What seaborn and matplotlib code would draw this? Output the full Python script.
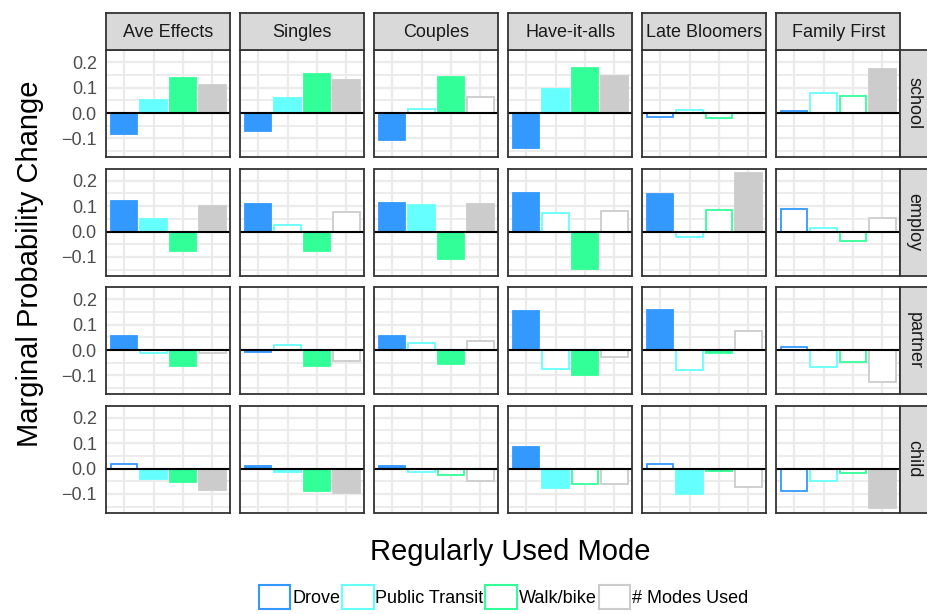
import matplotlib
matplotlib.use("Agg")
import matplotlib.pyplot as plt
from matplotlib.patches import Patch
import numpy as np
import pandas as pd
import seaborn as sns

# ---- data -------------------------------------------------------------
groups = ["Ave Effects", "Singles", "Couples", "Have-it-alls", "Late Bloomers", "Family First"]
outcomes = ["school", "employ", "partner", "child"]
modes = ["Drove", "Public Transit", "Walk/bike", "# Modes Used"]
mode_colors = ["#3399FF", "#66FFFF", "#33FF99", "#CCCCCC"]

# marginal probability change, one row per group, columns follow `modes`
school = [
    [-0.081, 0.053, 0.137, 0.111],
    [-0.071, 0.059, 0.152, 0.131],
    [-0.106, 0.016, 0.140, 0.062],
    [-0.136, 0.094, 0.178, 0.145],
    [-0.017, 0.011, -0.019, 0.001],
    [0.009, 0.080, 0.067, 0.173],
]
employ = [
    [0.120, 0.048, -0.078, 0.099],
    [0.109, 0.027, -0.078, 0.075],
    [0.113, 0.103, -0.108, 0.109],
    [0.152, 0.074, -0.148, 0.080],
    [0.147, -0.022, 0.086, 0.229],
    [0.090, 0.013, -0.037, 0.055],
]
partner = [
    [0.055, -0.012, -0.061, -0.013],
    [-0.006, 0.018, -0.061, -0.043],
    [0.055, 0.026, -0.054, 0.036],
    [0.154, -0.074, -0.097, -0.026],
    [0.158, -0.078, -0.013, 0.075],
    [0.012, -0.066, -0.049, -0.124],
]
child = [
    [0.018, -0.041, -0.054, -0.083],
    [0.008, -0.012, -0.089, -0.096],
    [0.010, -0.014, -0.027, -0.048],
    [0.083, -0.075, -0.060, -0.060],
    [0.018, -0.102, -0.008, -0.072],
    [-0.087, -0.050, -0.017, -0.154],
]

# 1 = significant (solid bar), 0 = not significant (outlined bar)
school_sig = [
    [1, 1, 1, 1],
    [1, 1, 1, 1],
    [1, 0, 1, 0],
    [1, 1, 1, 1],
    [0, 0, 0, 0],
    [0, 0, 0, 1],
]
employ_sig = [
    [1, 1, 1, 1],
    [1, 0, 1, 0],
    [1, 1, 1, 1],
    [1, 0, 1, 0],
    [1, 0, 0, 1],
    [0, 0, 0, 0],
]
partner_sig = [
    [1, 0, 1, 0],
    [1, 0, 1, 0],
    [1, 0, 1, 0],
    [1, 0, 1, 0],
    [1, 0, 1, 0],
    [0, 0, 0, 0],
]
child_sig = [
    [0, 1, 1, 1],
    [1, 1, 1, 1],
    [1, 0, 0, 0],
    [1, 1, 0, 0],
    [0, 1, 1, 0],
    [0, 0, 0, 1],
]

values_by_outcome = {"school": school, "employ": employ, "partner": partner, "child": child}
sig_by_outcome = {"school": school_sig, "employ": employ_sig,
                  "partner": partner_sig, "child": child_sig}

rows = []
for out in outcomes:
    for gi, g in enumerate(groups):
        for mi, m in enumerate(modes):
            rows.append({"outcome": out, "group": g, "mode": m,
                         "value": values_by_outcome[out][gi][mi],
                         "sig": sig_by_outcome[out][gi][mi]})
df = pd.DataFrame(rows)

# ---- style ------------------------------------------------------------
sns.set_theme(style="white")
plt.rcParams["font.family"] = ["Liberation Sans", "DejaVu Sans"]

W, H = 928, 614
fig = plt.figure(figsize=(W / 100, H / 100), dpi=100)

col_x = [106.5 + 134 * j for j in range(6)]
row_y = [50 + 118.5 * i for i in range(4)]
pw, ph = 123.5, 107
strip_h = 37.5
strip_w = 28

border = "#333333"
grid_c = "#EBEBEB"
strip_fc = "#D9D9D9"
ylim = (-0.173, 0.248)


def fig_rect(x, y, w, h):
    return [x / W, 1 - (y + h) / H, w / W, h / H]


for i, out in enumerate(outcomes):
    for j, g in enumerate(groups):
        ax = fig.add_axes(fig_rect(col_x[j], row_y[i], pw, ph))
        sub = df[(df.outcome == out) & (df.group == g)]
        sns.barplot(data=sub, x="mode", y="value", hue="mode", order=modes,
                    hue_order=modes, palette=mode_colors, width=0.9,
                    saturation=1, errorbar=None, legend=False, ax=ax, zorder=3)
        sig = dict(zip(sub["mode"], sub["sig"]))
        for k, cont in enumerate(ax.containers):
            for bar in cont:
                bar.set_edgecolor(mode_colors[k])
                bar.set_linewidth(1.3)
                bar.set_facecolor(mode_colors[k] if sig[modes[k]] else "white")
        ax.axhline(0, color="black", lw=1.5, zorder=4)
        ax.set_xlim(-0.6, 3.6)
        ax.set_ylim(*ylim)
        ax.set_yticks([-0.1, 0.0, 0.1, 0.2])
        ax.set_yticks([-0.15, -0.05, 0.05, 0.15], minor=True)
        ax.set_xticks(range(4))
        ax.grid(True, which="major", color=grid_c, lw=1.6, zorder=0)
        ax.grid(True, which="minor", axis="y", color=grid_c, lw=1.3, zorder=0)
        ax.set_axisbelow(True)
        ax.set_xlabel("")
        ax.set_ylabel("")
        for s in ax.spines.values():
            s.set_color(border)
            s.set_linewidth(1.3)
            s.set_zorder(5)
        ax.tick_params(axis="both", which="minor", length=0)
        ax.tick_params(axis="x", labelbottom=False, length=4 if i == 3 else 0,
                       color=border, width=1.0)
        if j == 0:
            ax.set_yticklabels(["\u22120.1", "0.0", "0.1", "0.2"])
            ax.tick_params(axis="y", length=3, color=border, width=1.0,
                           labelsize=13, labelcolor="#4D4D4D", pad=4)
        else:
            ax.tick_params(axis="y", labelleft=False, length=0)

        # facet strips
        if i == 0:
            sax = fig.add_axes(fig_rect(col_x[j], row_y[0] - strip_h, pw, strip_h))
            sax.set_facecolor(strip_fc)
            sax.set_xticks([]); sax.set_yticks([])
            for s in sax.spines.values():
                s.set_color(border); s.set_linewidth(1.3)
            sax.text(0.5, 0.47, g, ha="center", va="center", fontsize=13,
                     color="#1A1A1A", transform=sax.transAxes)
        if j == 5:
            sax = fig.add_axes(fig_rect(col_x[5] + pw, row_y[i], strip_w, ph))
            sax.set_facecolor(strip_fc)
            sax.set_xticks([]); sax.set_yticks([])
            for s in sax.spines.values():
                s.set_color(border); s.set_linewidth(1.3)
            sax.text(0.5, 0.5, out, ha="center", va="center", fontsize=13,
                     rotation=-90, color="#1A1A1A", transform=sax.transAxes)

# axis titles
fig.text(510 / W, 1 - 552 / H, "Regularly Used Mode", ha="center", va="center",
         fontsize=21, color="black")
fig.text(30 / W, 1 - 263.5 / H, "Marginal Probability Change", ha="center",
         va="center", rotation=90, fontsize=21, color="black")

# legend
handles = [Patch(facecolor="white", edgecolor=c, linewidth=1.5) for c in mode_colors]
leg = fig.legend(handles, modes, loc="center", bbox_to_anchor=(503.5 / W, 1 - 597 / H),
                 ncol=4, frameon=False, fontsize=13, handlelength=1.75,
                 handleheight=1.75, handletextpad=0.1, columnspacing=0.1,
                 borderaxespad=0, borderpad=0)
for t in leg.get_texts():
    t.set_color("black")

fig.savefig("out.png", dpi=100)
